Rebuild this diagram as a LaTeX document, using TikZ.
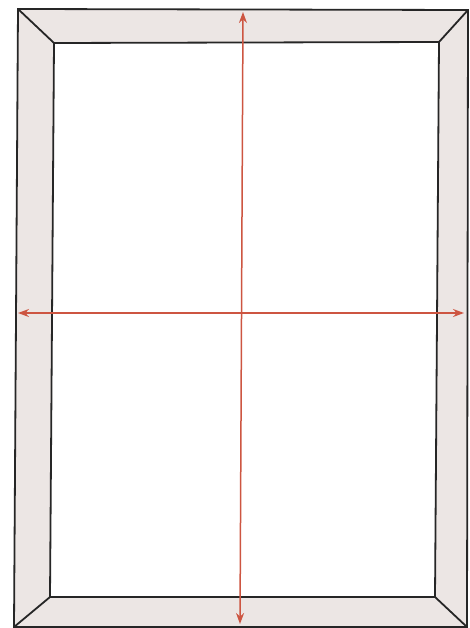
\documentclass[tikz,border=0pt]{standalone}
\usetikzlibrary{arrows.meta}
\definecolor{matcol}{RGB}{236,230,228}
\definecolor{arrowred}{RGB}{205,85,65}
\begin{document}
\begin{tikzpicture}[x=1pt,y=-1pt,
  frameline/.style={draw=black!85,line width=1.8pt,line join=miter},
  axisarrow/.style={draw=arrowred,line width=1.5pt,{Stealth[length=11pt,width=8pt]}-{Stealth[length=11pt,width=8pt]}}]
\useasboundingbox (0,0) rectangle (469,628);
\fill[white] (0,0) rectangle (469,628);
% outer corners
\coordinate (oTL) at (18,9);
\coordinate (oTR) at (468,10);
\coordinate (oBR) at (467,627);
\coordinate (oBL) at (14,627);
% inner corners
\coordinate (iTL) at (54,43);
\coordinate (iTR) at (439,42);
\coordinate (iBR) at (435,597);
\coordinate (iBL) at (50,597);
\fill[matcol,even odd rule] (oTL) -- (oTR) -- (oBR) -- (oBL) -- cycle (iTL) -- (iTR) -- (iBR) -- (iBL) -- cycle;
\draw[frameline] (oTL) -- (oTR) -- (oBR) -- (oBL) -- cycle;
\draw[frameline] (iTL) -- (iTR) -- (iBR) -- (iBL) -- cycle;
\draw[frameline] (oTL) -- (iTL);
\draw[frameline] (oTR) -- (iTR);
\draw[frameline] (oBR) -- (iBR);
\draw[frameline] (oBL) -- (iBL);
% arrows
\coordinate (aT) at (243,12);
\coordinate (aB) at (240,624);
\coordinate (aL) at (18,313);
\coordinate (aR) at (464,313);
\draw[axisarrow] (aT) -- (aB);
\draw[axisarrow] (aL) -- (aR);
\end{tikzpicture}
\end{document}
